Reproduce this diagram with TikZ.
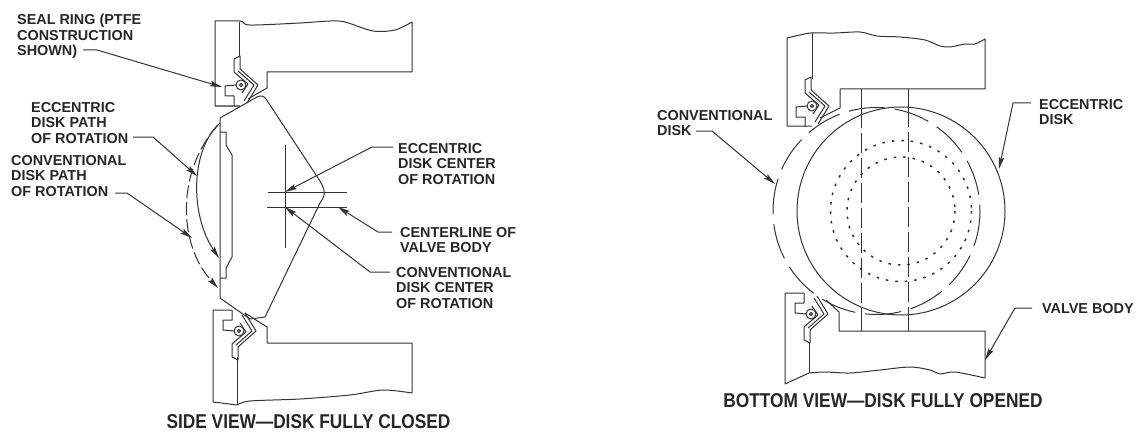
\documentclass[tikz,border=0pt]{standalone}
\usepackage{fontspec}
\setmainfont{Liberation Sans}
\newfontfamily\capfont[FakeStretch=.865]{Liberation Sans}
\usetikzlibrary{arrows.meta}
\definecolor{inkgray}{gray}{.2}
\tikzset{seal/.pic={
   \draw[body] (-7,-21) -- (-7,-11) -- (-16,-11) -- (-16,-1) -- (-5,0);
   \draw[body] (6,-18) -- (17,0) -- (-1,16) -- (-1,29) -- (-7,26) -- (-7,13) -- (0,7) -- (7,1) -- (1,-8);
   \draw[body] (3,-16) -- (13,0) -- (-3,14);
   \draw[body] (0,0) circle[radius=5];
   \draw[body] (0,0) circle[radius=1.6];
 }}
\begin{document}
\begin{tikzpicture}[x=1pt,y=-1pt,
  body/.style={draw=inkgray,line width=1pt,line join=round},
  leader/.style={body,-{Stealth[length=12pt,width=5.5pt,inset=2pt]}},
  longdash/.style={body,dash pattern=on 36pt off 10pt},
  centerdash/.style={body,dash pattern=on 20pt off 5pt},
  dotline/.style={body,line width=1.5pt,dash pattern=on 2.5pt off 7pt},
  mytext/.style={inner sep=0pt,anchor=north west,align=left,text=black!85,
    font=\fontsize{14.4}{15.6}\selectfont\bfseries},
  captext/.style={inner sep=0pt,text=black!85,font=\fontsize{20}{21}\selectfont\capfont\bfseries}]
   \useasboundingbox (0,0) rectangle (1144,436);

   % side view
   \draw[body] (239,56) -- (239,22);
   \draw[body] (240,106) -- (215,106) -- plot[smooth,tension=.5] coordinates {(215,21) (240,21) (250,25) (300,23) (330,21) (345,22) (373,31) (395,30) (412,22)} -- (412,72) -- (267,72) -- (267,88) -- (248,99);
   \draw[body] (237,357) -- (237,405);
   \draw[body] (232,310) -- (213,310) -- (213,402) -- (237,405) -- plot[smooth,tension=.5] coordinates {(237,405) (250,401) (300,399) (350,395) (383,390) (412,393)} -- (412,343) -- (267,343) -- (267,327) -- (245,313);
   \pic[yscale=-1] at (241,85) {seal};
   \pic at (239,331) {seal};
   \draw[body] (220,118) -- (257,97) .. controls (261,95) and (264,96) .. (266,99) -- (318,178) .. controls (326,190) and (326,195) .. (320,203) -- (265,317) -- (250,319) -- (220,298) -- cycle;
   \draw[body] (220,132) -- (226,132) -- (226,145) -- (232,155) -- (232,257) -- (226,268) -- (226,278) -- (220,278);
   \draw[leader] (220,123) .. controls (190,150) and (190,215) .. (219,258);
   \draw[leader,dash pattern=on 13pt off 4pt] (218,125) .. controls (177,170) and (177,243) .. (218,288);
   \draw[body] (285,145) -- (285,248);
   \draw[body] (268,192) -- (347,192);
   \draw[body] (267,207) -- (347,207);
   \coordinate (sealtip) at (222,87);
   \coordinate (eccpath) at (197,176);
   \coordinate (convpath) at (192,238);
   \coordinate (ecccenter) at (285,192);
   \coordinate (bodyline) at (338,207);
   \coordinate (convcenter) at (285,207);
   \node[mytext] (sealring) at (17,14) {SEAL RING (PTFE\\CONSTRUCTION\\SHOWN)};
   \node[mytext] (eccdisk) at (31,102) {ECCENTRIC\\DISK PATH\\OF ROTATION};
   \node[mytext] (convdisk) at (11,155) {CONVENTIONAL\\DISK PATH\\OF ROTATION};
   \node[mytext] (ecccen) at (398,143) {ECCENTRIC\\DISK CENTER\\OF ROTATION};
   \node[mytext] (centerline) at (400,227) {CENTERLINE OF\\VALVE BODY};
   \node[mytext] (convcen) at (396,267) {CONVENTIONAL\\DISK CENTER\\OF ROTATION};
   \draw[leader] ([shift={(66,36)}]sealring.north west) -- ++(14,0) -- (sealtip);
   \draw[leader] ([shift={(102,35)}]eccdisk.north west) -- ++(20,0) -- (eccpath);
   \draw[leader] ([shift={(104,38)}]convdisk.north west) -- ++(12,0) -- (convpath);
   \draw[leader] ([shift={(-5,4)}]ecccen.north west) -- ++(-21,0) -- (ecccenter);
   \draw[leader] ([shift={(-8,5)}]centerline.north west) -- ++(-14,0) -- (bodyline);
   \draw[leader] ([shift={(-6,5)}]convcen.north west) -- ++(-20,0) -- (convcenter);
   \node[captext] (sidecap) at (308.5,422) {SIDE VIEW—DISK FULLY CLOSED};

   % bottom view
   \draw[body] (812,79) -- (812,33);
   \draw[body] (812,126) -- (787,126) -- plot[smooth,tension=.5] coordinates {(787,38) (800,35) (811,33) (835,33) (860,32) (877,36) (900,37) (925,40) (940,46) (950,47) (965,44) (975,44) (985,39)} -- (985,89) -- (840,89) -- (840,108) -- (820,118);
   \draw[body] (809,342) -- (809,373);
   \draw[body] (804,293) -- (785,293) -- (785,384) -- plot[smooth,tension=.5] coordinates {(809,373) (825,372) (850,373) (880,370) (910,367) (930,370) (940,374) (955,372) (985,378)} -- (985,331) -- (839,331) -- (839,312) -- (826,300);
   \pic[yscale=-1] at (812,106) {seal};
   \pic at (811,314) {seal};
   \draw[body] (901,211) circle[radius=104];
   \draw[longdash] (876.5,211) circle[radius=103.5];
   \draw[dotline] (901,211) circle[radius=70.5];
   \draw[dotline] (901,211) circle[radius=54];
   \draw[body] (861,89) -- (861,108);
   \draw[body] (908,89) -- (908,107);
   \draw[body] (861,314) -- (861,331);
   \draw[body] (908,315) -- (908,331);
   \draw[centerdash] (861,108) -- (861,314);
   \draw[centerdash] (908,107) -- (908,315);
   \coordinate (convedge) at (775,184);
   \coordinate (eccedge) at (999,169);
   \coordinate (bodyedge) at (985,360);
   \node[mytext] (convlabel) at (657,110) {CONVENTIONAL\\DISK};
   \node[mytext] (ecclabel) at (1039,99) {ECCENTRIC\\DISK};
   \node[mytext] (bodylabel) at (1042,303) {VALVE BODY};
   \draw[leader] ([shift={(39,21)}]convlabel.north west) -- ++(16,0) -- (convedge);
   \draw[leader] ([shift={(-8,4)}]ecclabel.north west) -- ++(-18,0) -- (eccedge);
   \draw[leader] ([shift={(-10,5)}]bodylabel.north west) -- ++(-17,0) -- (bodyedge);
   \node[captext] (bottomcap) at (883,401) {BOTTOM VIEW—DISK FULLY OPENED};
  \end{tikzpicture}
\end{document}
